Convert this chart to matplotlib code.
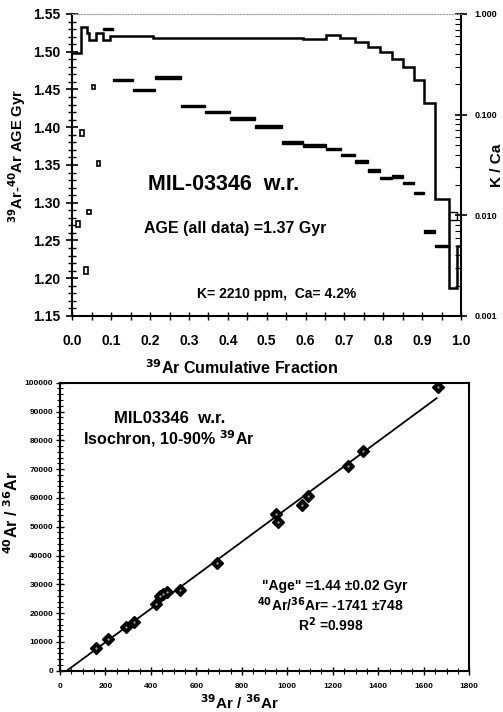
import matplotlib
matplotlib.use("Agg")
import matplotlib.pyplot as plt
from matplotlib.ticker import MultipleLocator, FixedLocator, LogLocator, NullFormatter
import numpy as np

plt.rcParams['font.family'] = ['Liberation Sans', 'DejaVu Sans']
plt.rcParams['font.weight'] = 'bold'
plt.rcParams['mathtext.default'] = 'bf'

# --- age spectrum: small early steps (drawn as open boxes)
small_edges = [0.009, 0.019, 0.029, 0.037, 0.048, 0.061, 0.074]
small_age = [1.272, 1.392, 1.210, 1.288, 1.453, 1.352]
small_err = [0.0035, 0.004, 0.0045, 0.003, 0.003, 0.003]

# --- age spectrum: main steps
step_edges = [0.078, 0.104, 0.155, 0.213, 0.280, 0.341, 0.405, 0.470, 0.539,
              0.594, 0.653, 0.690, 0.726, 0.760, 0.791, 0.822, 0.851, 0.879,
              0.905, 0.932, 0.969, 0.989]
step_age = [1.530, 1.4626, 1.4493, 1.4661, 1.4281, 1.4202, 1.4118, 1.4007,
            1.380, 1.3756, 1.3708, 1.3633, 1.3544, 1.3425, 1.3324, 1.3350,
            1.3260, 1.3125, 1.2617, 1.2428, 1.2825]
step_err = [0.0016] * 20 + [0.0055]

# --- K/Ca stair
kca_edges = [0.0, 0.021, 0.037, 0.043, 0.060, 0.078, 0.097, 0.207, 0.593,
             0.653, 0.689, 0.727, 0.760, 0.791, 0.822, 0.851, 0.879, 0.905,
             0.932, 0.969, 0.989, 1.0]
kca = [0.41, 0.75, 0.64, 0.556, 0.643, 0.556, 0.60, 0.581, 0.565, 0.618,
       0.581, 0.531, 0.473, 0.42, 0.36, 0.298, 0.221, 0.129, 0.0146, 0.0019,
       0.0049]

# --- isochron points
iso_x = [158, 211, 289, 325, 420, 440, 452, 470, 527, 692, 950, 958, 1066,
         1089, 1265, 1334, 1661]
iso_y = [8000, 10900, 15100, 17000, 23000, 25900, 26600, 27400, 28000, 37300,
         54400, 51800, 57500, 60700, 71100, 76400, 98400]
fit_x = [30, 1656]
fit_y = [0, 94600]

fig = plt.figure(figsize=(5.03, 7.12), dpi=100)

# ================= top: age spectrum =================
ax = fig.add_axes([0.1441, 0.5562, 0.7724, 0.4242])
ax2 = ax.twinx()

err = np.array(step_err)
faces = ['black' if e < 0.005 else 'white' for e in err]
ax.bar(step_edges[:-1], 2 * err, width=np.diff(step_edges),
       bottom=np.array(step_age) - err, align='edge',
       color=faces, edgecolor='black', linewidth=1.0, zorder=3)
serr = np.array(small_err)
ax.bar(np.array(small_edges[:-1]) + 0.001, 2 * serr, width=0.009,
       bottom=np.array(small_age) - serr, align='edge',
       facecolor='white', edgecolor='black', linewidth=1.2, zorder=3)

ax.set_xlim(0, 1.0)
ax.set_ylim(1.15, 1.55)
ax.xaxis.set_major_locator(MultipleLocator(0.1))
ax.xaxis.set_minor_locator(MultipleLocator(0.05))
ax.yaxis.set_major_locator(MultipleLocator(0.05))
ax.yaxis.set_minor_locator(MultipleLocator(0.01))
ax.xaxis.set_major_formatter(plt.FuncFormatter(lambda v, p: f"{v:.1f}"))
ax.yaxis.set_major_formatter(plt.FuncFormatter(lambda v, p: f"{v:.2f}"))
ax.tick_params(axis='y', which='major', direction='inout', length=9, width=1.2,
               labelsize=10, pad=4)
ax.tick_params(axis='y', which='minor', direction='inout', length=6, width=1.0)
ax.tick_params(axis='x', which='both', direction='inout', length=6, width=1.0,
               labelsize=10, pad=10)
for s in ['left', 'bottom']:
    ax.spines[s].set_linewidth(1.5)
ax.spines['top'].set_color('0.65')
ax.spines['top'].set_linestyle(':')
ax.spines['right'].set_visible(False)

ax2.stairs(kca, kca_edges, color='black', linewidth=1.8, baseline=None, zorder=2)
ax2.set_yscale('log')
ax2.set_ylim(0.001, 1.0)
ax2.yaxis.set_major_locator(FixedLocator([0.001, 0.01, 0.1, 1.0]))
ax2.yaxis.set_major_formatter(plt.FuncFormatter(lambda v, p: f"{v:.3f}"))
ax2.yaxis.set_minor_locator(LogLocator(base=10, subs=np.arange(2, 10)))
ax2.yaxis.set_minor_formatter(NullFormatter())
ax2.tick_params(axis='y', which='major', direction='inout', length=8, width=1.2,
                labelsize=6.5, pad=6)
ax2.tick_params(axis='y', which='minor', direction='in', length=4, width=0.8)
ax2.spines['right'].set_linewidth(1.5)
ax2.spines['top'].set_color('0.65')
ax2.spines['top'].set_linestyle(':')
ax2.spines['left'].set_visible(False)
ax2.spines['bottom'].set_visible(False)

ax.set_xlabel('$^{39}$Ar Cumulative Fraction', fontsize=11.5, fontweight='bold')
ax.xaxis.set_label_coords(0.435, -0.14)
ax.set_ylabel('$^{39}$Ar-$^{40}$Ar AGE Gyr', fontsize=10.5, fontweight='bold')
ax.yaxis.set_label_coords(-0.115, 0.53)
ax2.set_ylabel('K / Ca', fontsize=11, fontweight='bold')
ax2.yaxis.set_label_coords(1.075, 0.5)

ax.text(0.39, 1.317, 'MIL-03346  w.r.', fontsize=15.5, fontweight='bold',
        ha='center', va='baseline')
ax.text(0.4175, 1.2593, 'AGE (all data) =1.37 Gyr', fontsize=11.5,
        fontweight='bold', ha='center', va='baseline')
ax.text(0.5246, 1.1734, 'K= 2210 ppm,  Ca= 4.2%', fontsize=10,
        fontweight='bold', ha='center', va='baseline')

# ================= bottom: isochron =================
bx = fig.add_axes([0.1193, 0.058, 0.8137, 0.4045])
bx.plot(fit_x, fit_y, color='black', linewidth=1.3, zorder=2)
bx.plot(iso_x, iso_y, linestyle='none', marker='D', markersize=6,
        color='black', zorder=3)
bx.plot(iso_x, iso_y, linestyle='none', marker='.', markersize=0.8,
        color='white', zorder=4)
bx.set_xlim(0, 1800)
bx.set_ylim(0, 100000)
bx.xaxis.set_major_locator(MultipleLocator(200))
bx.xaxis.set_minor_locator(MultipleLocator(50))
bx.yaxis.set_major_locator(MultipleLocator(10000))
bx.yaxis.set_minor_locator(MultipleLocator(2000))
bx.tick_params(axis='both', which='major', direction='inout', length=6,
               width=1.0, labelsize=6)
bx.tick_params(axis='both', which='minor', direction='inout', length=4,
               width=0.8)
bx.tick_params(axis='x', pad=6)
bx.tick_params(axis='y', pad=2)
for s in bx.spines.values():
    s.set_linewidth(1.5)

bx.set_xlabel('$^{39}$Ar / $^{36}$Ar', fontsize=11, fontweight='bold')
bx.xaxis.set_label_coords(0.4377, -0.078)
bx.set_ylabel('$^{40}$Ar / $^{36}$Ar', fontsize=11.5, fontweight='bold')
bx.yaxis.set_label_coords(-0.095, 0.55)

bx.text(484, 86000, 'MIL03346  w.r.', fontsize=12, fontweight='bold',
        ha='center', va='baseline')
bx.text(479, 78370, 'Isochron, 10-90% $^{39}$Ar', fontsize=11.5,
        fontweight='bold', ha='center', va='baseline')
bx.text(1207, 28020, '"Age" =1.44 \u00b10.02 Gyr', fontsize=10,
        fontweight='bold', ha='center', va='baseline')
bx.text(1190, 20830, '$^{40}$Ar/$^{36}$Ar= -1741 \u00b1748', fontsize=10,
        fontweight='bold', ha='center', va='baseline')
bx.text(1190, 13780, 'R$^{2}$ =0.998', fontsize=10, fontweight='bold',
        ha='center', va='baseline')

fig.savefig('out.png', dpi=100)
